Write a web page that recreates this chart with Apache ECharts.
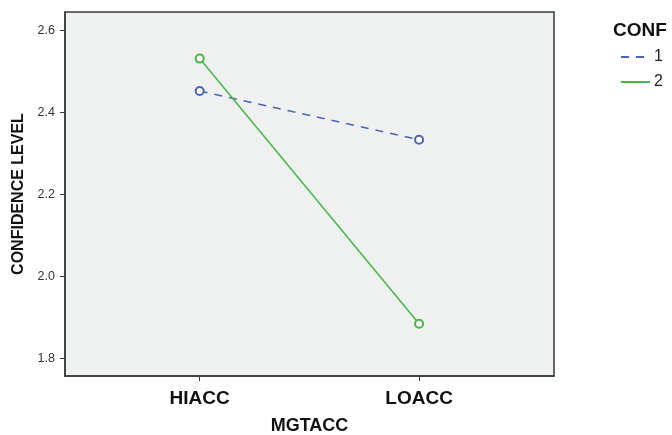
<!DOCTYPE html>
<html>
<head>
<meta charset="utf-8">
<script src="https://cdn.jsdelivr.net/npm/echarts@6/dist/echarts.min.js"></script>
<style>
  html, body { margin: 0; padding: 0; background: #ffffff; }
  #chart { width: 672px; height: 435px; }
</style>
</head>
<body>
<div id="chart"></div>
<script>
// Estimated marginal means of confidence level by MGTACC, split by CONF
var categories = ['HIACC', 'LOACC'];
var conf1 = [2.452, 2.333];
var conf2 = [2.531, 1.884];
var yTicks = [1.8, 2.0, 2.2, 2.4, 2.6];
var seriesNames = ['1', '2'];

function toPoints(values) {
  return values.map(function (v, i) { return [i, v]; });
}

var chart = echarts.init(document.getElementById('chart'), null, { renderer: 'canvas' });

var option = {
  backgroundColor: '#ffffff',
  animation: false,
  title: {
    text: 'CONF',
    left: 608,
    top: 16,
    textStyle: { fontFamily: 'Liberation Sans, Arial, sans-serif', fontSize: 19, fontWeight: 'bold', color: '#111' }
  },
  legend: {
    data: seriesNames,
    orient: 'vertical',
    left: 615,
    top: 44,
    itemGap: 9,
    itemWidth: 29,
    itemHeight: 14,
    itemStyle: { opacity: 0 },
    textStyle: { fontFamily: 'Liberation Sans, Arial, sans-serif', fontSize: 16, color: '#222', padding: [5, 0, 0, -1] }
  },
  grid: {
    left: 65,
    right: 118,
    top: 12,
    bottom: 59,
    outerBoundsMode: 'none',
    containLabel: false,
    show: true,
    backgroundColor: '#eff0f0',
    borderColor: '#3a3a3a',
    borderWidth: 1.5
  },
  xAxis: {
    type: 'value',
    min: -0.614,
    max: 1.615,
    name: 'MGTACC',
    nameLocation: 'middle',
    nameGap: 41,
    nameTextStyle: { fontFamily: 'Liberation Sans, Arial, sans-serif', fontSize: 18, fontWeight: 'bold', color: '#111' },
    axisLine: { show: true, onZero: false, lineStyle: { color: '#3a3a3a', width: 1.5 } },
    axisTick: { show: true, length: 5, customValues: [0, 1], lineStyle: { color: '#3a3a3a' } },
    axisLabel: {
      customValues: [0, 1],
      margin: 13,
      formatter: function (v) { return categories[Math.round(v)]; },
      fontFamily: 'Liberation Sans, Arial, sans-serif', fontSize: 19, fontWeight: 'bold', color: '#111'
    },
    splitLine: { show: false }
  },
  yAxis: {
    type: 'value',
    min: 1.7565,
    max: 2.6447,
    name: 'CONFIDENCE LEVEL',
    nameLocation: 'middle',
    nameGap: 28,
    nameTextStyle: { fontFamily: 'Liberation Sans, Arial, sans-serif', fontSize: 16, fontWeight: 'bold', color: '#111' },
    axisLine: { show: true, onZero: false, lineStyle: { color: '#3a3a3a', width: 1.5 } },
    axisTick: { show: true, length: 5, customValues: yTicks, lineStyle: { color: '#3a3a3a' } },
    axisLabel: {
      customValues: yTicks,
      margin: 10,
      formatter: function (v) { return v.toFixed(1); },
      fontFamily: 'Liberation Sans, Arial, sans-serif', fontSize: 12.5, color: '#333'
    },
    splitLine: { show: false }
  },
  series: [
    {
      name: seriesNames[0],
      type: 'line',
      data: toPoints(conf1),
      symbol: 'emptyCircle',
      symbolSize: 8,
      color: '#4a63b8',
      lineStyle: { color: '#4a63b8', width: 1.5, type: [8, 7] },
      itemStyle: { color: '#4a63b8', borderColor: '#4a63b8', borderWidth: 1.3 }
    },
    {
      name: seriesNames[1],
      type: 'line',
      data: toPoints(conf2),
      symbol: 'emptyCircle',
      symbolSize: 8,
      color: '#45b845',
      lineStyle: { color: '#45b845', width: 1.5 },
      itemStyle: { color: '#45b845', borderColor: '#45b845', borderWidth: 1.3 }
    }
  ]
};

chart.setOption(option);
</script>
</body>
</html>
